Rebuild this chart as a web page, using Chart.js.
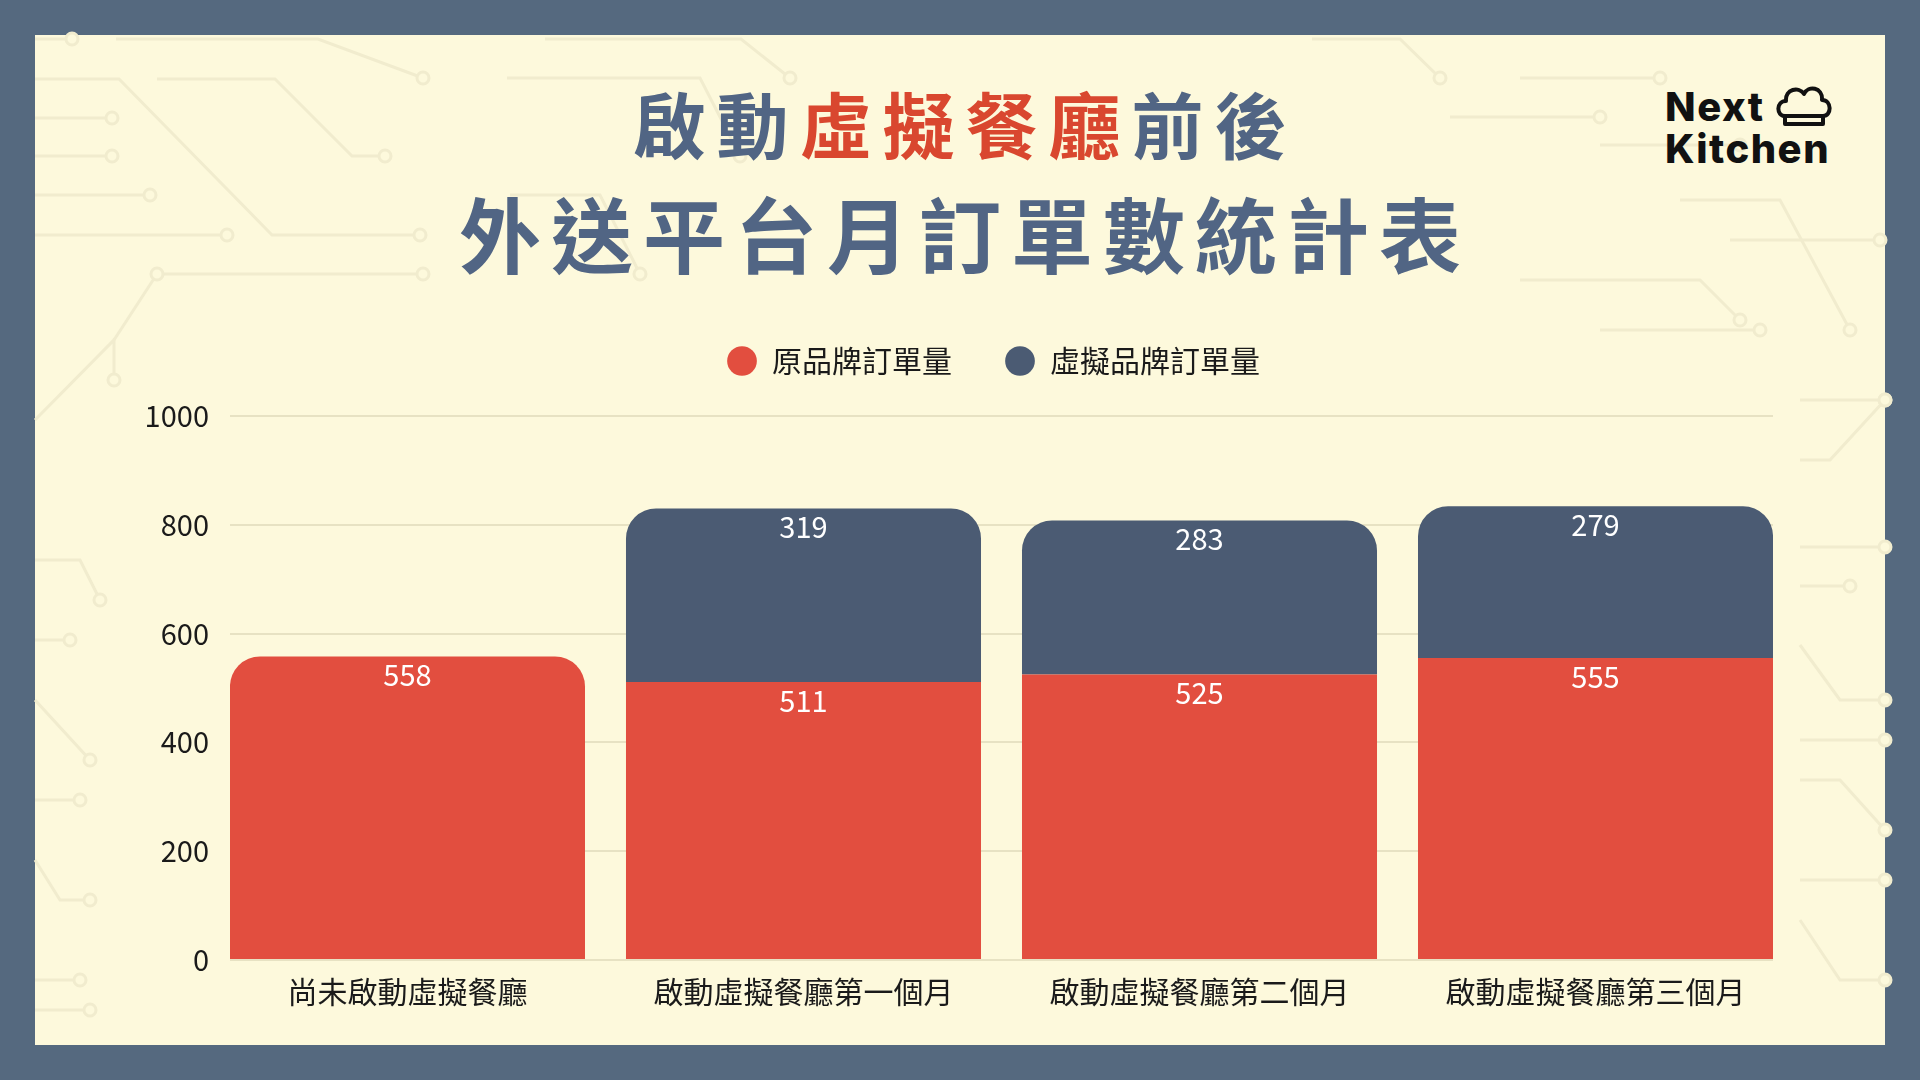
<!DOCTYPE html>
<html>
<head>
<meta charset="utf-8">
<script src="https://cdn.jsdelivr.net/npm/chart.js@4.4.1/dist/chart.umd.min.js"></script>
<style>
    html, body { margin: 0; padding: 0; }
    body {
        width: 1920px; height: 1080px; position: relative; overflow: hidden;
        background: #55697f; font-family: "Noto Sans CJK TC", sans-serif;
    }
    #panel { position: absolute; left: 35px; top: 35px; width: 1850px; height: 1010px; background: #fdf9dc; }
    #deco { position: absolute; left: 0; top: 0; }
    .title { position: absolute; left: 0; width: 1920px; text-align: center; font-weight: 700; color: #516584; line-height: 1; white-space: nowrap; }
    .title .hl { color: #d9472f; }
    #t1 { top: 86px; font-size: 72px; letter-spacing: 11px; padding-left: 11px; box-sizing: border-box; }
    #t2 { top: 191px; font-size: 82px; letter-spacing: 10px; padding-left: 10px; box-sizing: border-box; }
    #logo { position: absolute; left: 1665px; top: 86px; font-family: Inter, sans-serif; font-weight: 800; font-size: 40px; line-height: 42px; letter-spacing: 1.5px; color: #111; }
    #logo svg { position: absolute; left: 110px; top: -2px; }
    #chart-box { position: absolute; left: 100px; top: 293px; width: 1906px; height: 752px; }
</style>
</head>
<body>
<div id="panel"></div>
<svg id="deco" width="1920" height="1080"></svg>
<div class="title" id="t1">啟動<span class="hl">虛擬餐廳</span>前後</div>
<div class="title" id="t2">外送平台月訂單數統計表</div>
<div id="logo">
    <div>Next</div>
    <div>Kitchen</div>
    <svg width="58" height="48" viewBox="0 0 58 48">
        <path d="M10 32 C1 32 1 17 11 17 C10 5 24 2 29 10 C33 1 48 3 47 16 C57 16 57 32 48 32 Z" fill="none" stroke="#111" stroke-width="4" stroke-linejoin="round"/>
        <path d="M10 32 V40 H48 V32" fill="none" stroke="#111" stroke-width="4" stroke-linejoin="round"/>
    </svg>
</div>
<div id="chart-box"><canvas id="orderChart"></canvas></div>
<script>
const categories = ['尚未啟動虛擬餐廳', '啟動虛擬餐廳第一個月', '啟動虛擬餐廳第二個月', '啟動虛擬餐廳第三個月'];
const originalOrders = [558, 511, 525, 555];
const virtualOrders = [null, 319, 283, 279];
const seriesNames = ['原品牌訂單量', '虛擬品牌訂單量'];
const yTicks = [0, 200, 400, 600, 800, 1000];

// faint circuit-board traces in the background
function drawDeco() {
    const svg = document.getElementById('deco');
    const traces = [
        [[35,39],[72,39]], [[116,39],[318,39],[423,78]], [[545,39],[741,39],[790,78]],
        [[35,79],[119,79],[272,235],[420,235]], [[157,79],[275,79],[352,156],[385,156]],
        [[35,118],[112,118]], [[35,156],[112,156]], [[35,195],[150,195]], [[35,235],[227,235]],
        [[157,274],[423,274]], [[114,340],[157,274]], [[35,420],[114,340],[114,380]],
        [[507,78],[700,78],[740,156]], [[510,195],[600,195],[640,274]],
        [[1312,39],[1400,39],[1440,78]], [[1450,117],[1600,117]], [[1520,78],[1660,78]],
        [[1600,145],[1740,145]], [[1680,200],[1780,200],[1850,330]], [[1730,240],[1880,240]],
        [[1520,280],[1700,280],[1740,320]], [[1600,330],[1760,330]],
        [[1800,400],[1885,400]], [[1800,460],[1830,460],[1885,400]], [[1800,547],[1885,547]],
        [[1800,586],[1850,586]], [[1800,645],[1840,700],[1885,700]], [[1800,740],[1885,740]],
        [[1800,780],[1840,780],[1885,830]], [[1800,880],[1885,880]], [[1800,920],[1840,980],[1885,980]],
        [[35,560],[80,560],[100,600]], [[35,640],[70,640]], [[35,700],[90,760]], [[35,800],[80,800]],
        [[35,860],[60,900],[90,900]], [[35,980],[80,980]], [[35,1010],[90,1010]]
    ];
    let html = '';
    traces.forEach(pts => {
        html += '<polyline points="' + pts.map(p => p.join(',')).join(' ') + '" fill="none" stroke="#f1ecce" stroke-width="3"/>';
        const end = pts[pts.length - 1];
        html += '<circle cx="' + end[0] + '" cy="' + end[1] + '" r="6" fill="#fdf9dc" stroke="#f1ecce" stroke-width="3"/>';
    });
    svg.innerHTML = html;
}
drawDeco();

// white value text at the top of each bar segment
const valueLabels = {
    id: 'valueLabels',
    afterDatasetsDraw(chart) {
        const ctx = chart.ctx;
        ctx.save();
        ctx.fillStyle = '#ffffff';
        ctx.font = '400 29px "Noto Sans CJK TC"';
        ctx.textAlign = 'center';
        ctx.textBaseline = 'middle';
        chart.data.datasets.forEach((ds, i) => {
            chart.getDatasetMeta(i).data.forEach((bar, j) => {
                const v = ds.data[j].y;
                if (v == null) return;
                ctx.fillText(String(v), bar.x, bar.y + 19);
            });
        });
        ctx.restore();
    }
};

// legend: shorter box so the plot starts right under it, and nudged right
const legendTweak = {
    id: 'legendTweak',
    beforeInit(chart) {
        const fit = chart.legend.fit;
        chart.legend.fit = function () {
            fit.bind(chart.legend)();
            this.height = 123;
        };
    },
    afterLayout(chart) {
        chart.legend.left += 57;
        chart.legend.right += 57;
    }
};

const radius = 30;
// bars touch both ends of the gridlines, so x is a linear index axis
const xEdge = 0.4482;

new Chart(document.getElementById('orderChart'), {
    type: 'bar',
    data: {
        datasets: [
            {
                label: seriesNames[0],
                data: originalOrders.map((v, i) => ({ x: i, y: v })),
                backgroundColor: '#e24e3f',
                borderRadius: ctx => virtualOrders[ctx.dataIndex] == null ? { topLeft: radius, topRight: radius } : 0
            },
            {
                label: seriesNames[1],
                data: virtualOrders.map((v, i) => ({ x: i, y: v })),
                backgroundColor: '#4b5b73',
                borderRadius: { topLeft: radius, topRight: radius }
            }
        ]
    },
    options: {
        responsive: true,
        maintainAspectRatio: false,
        animation: false,
        layout: { padding: { left: 0, right: 233, top: 0, bottom: 29 } },
        datasets: { bar: { categoryPercentage: 1, barPercentage: 0.8965, borderSkipped: 'start' } },
        plugins: {
            legend: {
                position: 'top',
                labels: {
                    usePointStyle: true,
                    pointStyle: 'circle',
                    boxWidth: 30,
                    boxHeight: 21,
                    padding: 53,
                    color: '#1a1a1a',
                    font: { family: '"Noto Sans CJK TC"', size: 30 }
                }
            },
            tooltip: { enabled: false }
        },
        scales: {
            x: {
                type: 'linear',
                stacked: true,
                offset: false,
                min: -xEdge,
                max: categories.length - 1 + xEdge,
                afterBuildTicks: scale => { scale.ticks = categories.map((c, i) => ({ value: i })); },
                grid: { display: false },
                border: { display: false },
                ticks: {
                    color: '#1a1a1a',
                    padding: 6,
                    maxRotation: 0,
                    autoSkip: false,
                    callback: value => categories[value],
                    font: { family: '"Noto Sans CJK TC"', size: 30 }
                }
            },
            y: {
                stacked: true,
                min: yTicks[0],
                max: yTicks[yTicks.length - 1],
                afterFit: scale => { scale.width = 130; },
                afterBuildTicks: scale => { scale.ticks = yTicks.map(v => ({ value: v })); },
                grid: { color: '#e7e2c3', lineWidth: 2, drawTicks: false },
                border: { display: false },
                ticks: {
                    color: '#1a1a1a',
                    padding: 21,
                    callback: value => String(value),
                    font: { family: '"Noto Sans CJK TC"', size: 29 }
                }
            }
        }
    },
    plugins: [valueLabels, legendTweak]
});
</script>
</body>
</html>
